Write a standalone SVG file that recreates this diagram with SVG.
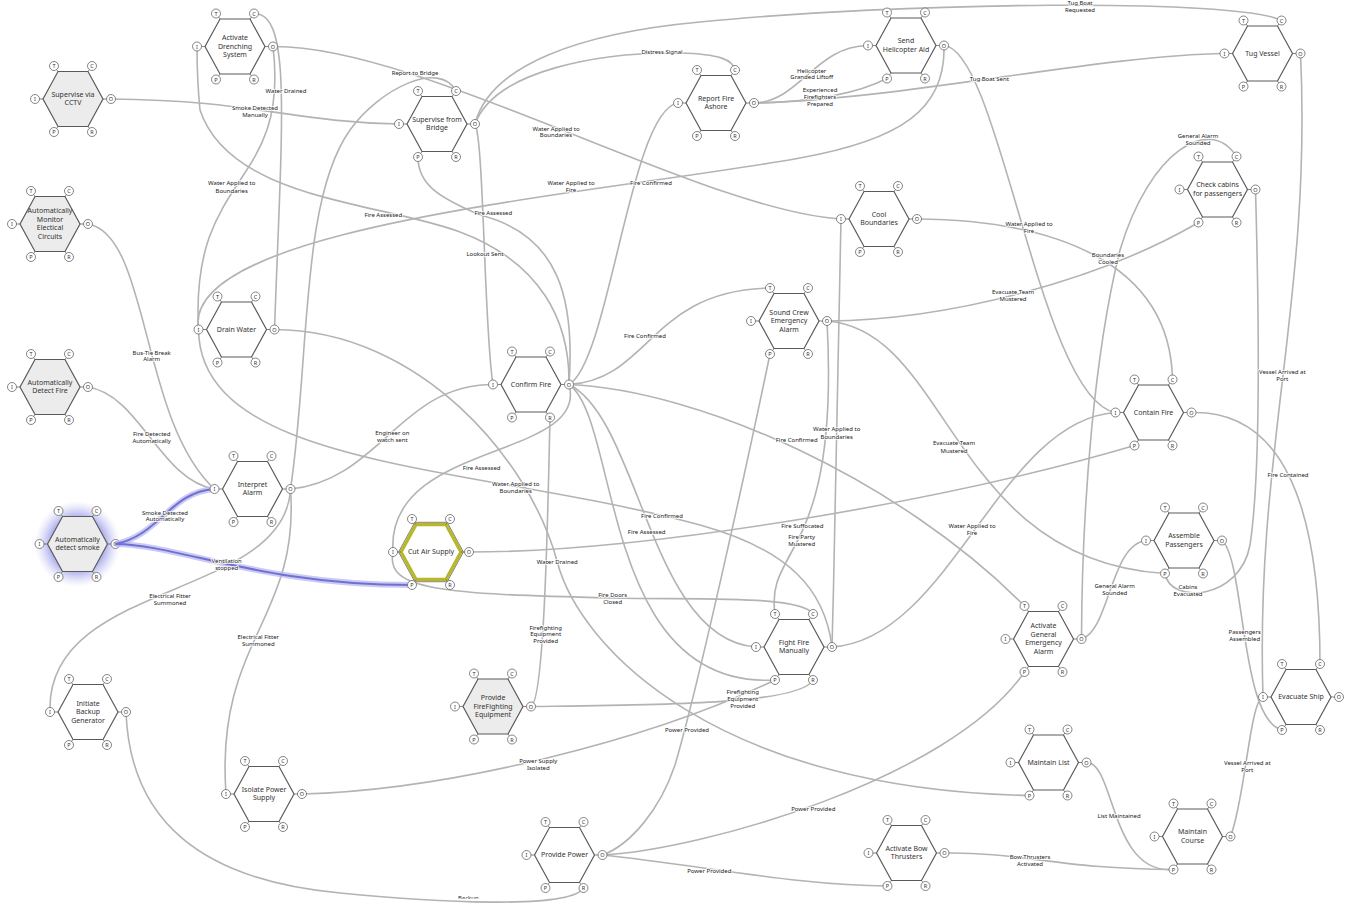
<svg xmlns="http://www.w3.org/2000/svg" width="1353" height="910" viewBox="0 0 1353 910">
<defs>
<style>
.c{fill:none;stroke:#b3b3b3;stroke-width:1.6}
.hl{fill:none;stroke:#7070d2;stroke-width:2}
.hlg{fill:none;stroke:#b8b8f0;stroke-width:6;stroke-opacity:0.75}
.lb{font-family:"Noto Sans","Liberation Sans",sans-serif;font-size:6px;fill:#1a1a1a;text-anchor:middle;stroke:#fff;stroke-width:1.6;paint-order:stroke;stroke-linejoin:round}
.hx{stroke:#5a5a5a;stroke-width:1.2}
.w{fill:#fff}
.g{fill:#ececec}
.ac{fill:#fff;stroke:#666;stroke-width:0.8}
.al{font-family:"Noto Sans","Liberation Sans",sans-serif;font-size:5.5px;fill:#333;text-anchor:middle}
.nt{font-family:"Noto Sans","Liberation Sans",sans-serif;font-size:7px;fill:#333;text-anchor:middle}
</style>
<polygon id="hex" points="-30,0 -15,-27.5 15,-27.5 30,0 15,27.5 -15,27.5"/>
<g id="asp">
<path d="M-34,0H-30M30,0H34M-19,-33L-15,-27.5M19,-33L15,-27.5M-19,33L-15,27.5M19,33L15,27.5" stroke="#666" stroke-width="0.8" fill="none"/>
<circle cx="-19" cy="-33" r="4.5" class="ac"/><circle cx="19" cy="-33" r="4.5" class="ac"/>
<circle cx="-38" cy="0" r="4.5" class="ac"/><circle cx="38" cy="0" r="4.5" class="ac"/>
<circle cx="-19" cy="33" r="4.5" class="ac"/><circle cx="19" cy="33" r="4.5" class="ac"/>
</g>
<radialGradient id="glow" cx="0.5" cy="0.5" r="0.5">
<stop offset="0" stop-color="#8c8ce6" stop-opacity="0.9"/>
<stop offset="0.65" stop-color="#9c9cea" stop-opacity="0.75"/>
<stop offset="1" stop-color="#c8c8f4" stop-opacity="0"/>
</radialGradient>
<clipPath id="clipb"><rect x="0" y="0" width="1353" height="898.7"/></clipPath>
</defs>
<rect width="1353" height="910" fill="#fff"/>

<g id="n-auto-detect-smoke" transform="translate(77.5,544)">
<circle r="43" fill="url(#glow)"/>
<use href="#hex" class="hx g"/><use href="#asp"/>
<text class="al" x="-19" y="-31">T</text><text class="al" x="19" y="-31">C</text><text class="al" x="-38" y="2">I</text><text class="al" x="38" y="2">O</text><text class="al" x="-19" y="35">P</text><text class="al" x="19" y="35">R</text>
<text class="nt"><tspan x="0" y="-2.25">Automatically</tspan><tspan x="0" y="6.25">detect smoke</tspan></text>
</g>

<g id="connectors">
<path class="c" d="M111,99 C250,100 300,123 399,124"/>
<path class="c" d="M274.5,329.5 C282,120 292,13 254,13.5"/>
<path class="c" d="M273,46.5 C290,190 190,170 198.5,329.5"/>
<path class="c" d="M273,46.5 C420,45 700,210 841,219"/>
<path class="c" d="M944,45.5 C946,110 900,140 800,158 C600,194 180,225 198.5,329.5"/>
<path class="c" d="M569,384.5 C570,320 540,262 460,232 C380,202 230,200 200,110 C198,90 197,70 197,46.5"/>
<path class="c" d="M569,384.5 C575,300 560,235 480,215 C440,198 418,185 418,157"/>
<path class="c" d="M475,124 C484,140 484,330 493,384.5"/>
<path class="c" d="M475,124 C490,65 580,33 700,22 C900,2 1240,-2 1281.5,20.5"/>
<path class="c" d="M475,124 C495,70 600,52 680,53 C720,54 733,60 735,70"/>
<path class="c" d="M754,103 C800,102 815,46 868,45.5"/>
<path class="c" d="M754,103 C820,102 860,92 887,78.5"/>
<path class="c" d="M754,103 C900,100 1100,55 1224.5,53.5"/>
<path class="c" d="M944,45.5 C1000,50 1040,400 1115.5,412.5"/>
<path class="c" d="M917,219 C1050,220 1170,260 1172.5,379.5"/>
<path class="c" d="M569,384.5 C610,360 630,110 678,103"/>
<path class="c" d="M569,384.5 C650,380 650,290 770,288"/>
<path class="c" d="M569,384.5 C700,390 900,480 1024.5,606"/>
<path class="c" d="M569,384.5 C640,420 650,640 756,647"/>
<path class="c" d="M569,384.5 C620,420 600,690 775,680"/>
<path class="c" d="M569,384.5 C590,460 385,440 393,552"/>
<path class="c" d="M393,552 C385,590 440,594 612,598 C700,600 800,595 813,614"/>
<path class="c" d="M290.5,489 C380,480 400,384.5 493,384.5"/>
<path class="c" d="M290.5,489 C310,360 300,200 350,130 C380,88 440,60 456,91"/>
<path class="c" d="M290.5,489 C285,600 45,580 50,712"/>
<path class="c" d="M290.5,489 C300,620 215,640 226,794"/>
<path class="c" d="M88,224 C150,235 140,420 214.5,489"/>
<path class="c" d="M88,387 C140,395 160,480 214.5,489"/>
<path class="c" d="M832,647 C825,590 790,550 700,525 C480,465 200,470 198.5,329.5"/>
<path class="c" d="M832,647 C836,500 838,350 841,219"/>
<path class="c" d="M827,321 C840,560 765,545 775,614"/>
<path class="c" d="M827,321 C950,330 950,560 1165,573.5"/>
<path class="c" d="M827,321 C950,320 1100,280 1198.5,222.5"/>
<path class="c" d="M602.5,855 C630,845 660,810 675,765 C700,680 750,450 770,354"/>
<path class="c" d="M602.5,855 C700,850 950,780 1024.5,672"/>
<path class="c" d="M602.5,855 C700,865 800,886 887.5,886"/>
<path class="c" d="M126,712 C130,820 200,880 340,893 C430,902 570,910 583.5,888"/>
<path class="c" d="M302,794 C450,790 650,740 775,680"/>
<path class="c" d="M531,706.5 C650,705 800,705 813,680"/>
<path class="c" d="M531,706.5 C545,700 548,500 550,417.5"/>
<path class="c" d="M274.5,329.5 C420,330 530,460 557,561 C580,650 720,790 1029.5,795.5"/>
<path class="c" d="M832,647 C950,640 1000,420 1115.5,412.5"/>
<path class="c" d="M469,552 C650,552 950,500 1134.5,445.5"/>
<path class="c" d="M1255.5,189.5 C1260,350 1260,480 1250,545 C1240,600 1170,605 1165,573.5"/>
<path class="c" d="M1300.5,53.5 C1312,300 1255,450 1263,697"/>
<path class="c" d="M1081.5,639 C1082,500 1095,350 1120,250 C1150,150 1210,115 1236.5,156.5"/>
<path class="c" d="M1081.5,639 C1110,630 1110,545 1146,540.5"/>
<path class="c" d="M1222,540.5 C1245,560 1240,720 1282,730"/>
<path class="c" d="M1230.5,836.5 C1245,800 1250,700 1263,697"/>
<path class="c" d="M1191.5,412.5 C1280,410 1320,500 1320,664"/>
<path class="c" d="M1086.5,762.5 C1115,762 1110,875 1173.5,869.5"/>
<path class="c" d="M944.5,853 C1020,852 1060,869 1173.5,869.5"/>
<path class="hlg" d="M115.5,544 C160,535 170,492 214.5,489"/>
<path class="hlg" d="M115.5,544 C180,545 260,585 412,585"/>
<path class="hl" d="M115.5,544 C160,535 170,492 214.5,489"/>
<path class="hl" d="M115.5,544 C180,545 260,585 412,585"/>

<text class="lb"><tspan x="1080" y="5">Tug Boat</tspan><tspan x="1080" y="11.5">Requested</tspan></text>
<text class="lb" x="662" y="54">Distress Signal</text>
<text class="lb"><tspan x="811.7" y="72.7">Helicopter</tspan><tspan x="811.7" y="79.3">Granded Liftoff</tspan></text>
<text class="lb"><tspan x="820" y="92">Experienced</tspan><tspan x="820" y="98.7">Firefighters</tspan><tspan x="820" y="105.7">Prepared</tspan></text>
<text class="lb" x="989.3" y="80.7">Tug Boat Sent</text>
<text class="lb"><tspan x="255" y="109.7">Smoke Detected</tspan><tspan x="255" y="117">Manually</tspan></text>
<text class="lb" x="286" y="92.7">Water Drained</text>
<text class="lb" x="415" y="75.3">Report to Bridge</text>
<text class="lb"><tspan x="556" y="130.7">Water Applied to</tspan><tspan x="556" y="137.3">Boundaries</tspan></text>
<text class="lb"><tspan x="231.7" y="185.3">Water Applied to</tspan><tspan x="231.7" y="193">Boundaries</tspan></text>
<text class="lb"><tspan x="571" y="185.3">Water Applied to</tspan><tspan x="571" y="192">Fire</tspan></text>
<text class="lb" x="651" y="185.3">Fire Confirmed</text>
<text class="lb" x="383.3" y="217">Fire Assessed</text>
<text class="lb" x="493.3" y="215.3">Fire Assessed</text>
<text class="lb" x="485" y="256">Lookout Sent</text>
<text class="lb"><tspan x="1029" y="226.3">Water Applied to</tspan><tspan x="1029" y="233">Fire</tspan></text>
<text class="lb"><tspan x="1108" y="257">Boundaries</tspan><tspan x="1108" y="263.7">Cooled</tspan></text>
<text class="lb"><tspan x="1198" y="137.7">General Alarm</tspan><tspan x="1198" y="144.7">Sounded</tspan></text>
<text class="lb"><tspan x="1013" y="294">Evacuate Team</tspan><tspan x="1013" y="301">Mustered</tspan></text>
<text class="lb" x="645" y="338">Fire Confirmed</text>
<text class="lb"><tspan x="392.3" y="435.3">Engineer on</tspan><tspan x="392.3" y="442">watch sent</tspan></text>
<text class="lb"><tspan x="151.7" y="354.7">Bus-Tie Break</tspan><tspan x="151.7" y="361.3">Alarm</tspan></text>
<text class="lb"><tspan x="151.7" y="436">Fire Detected</tspan><tspan x="151.7" y="442.7">Automatically</tspan></text>
<text class="lb"><tspan x="165" y="514.7">Smoke Detected</tspan><tspan x="165" y="521.3">Automatically</tspan></text>
<text class="lb"><tspan x="226.7" y="563">Ventilation</tspan><tspan x="226.7" y="569.7">stopped</tspan></text>
<text class="lb"><tspan x="170" y="598">Electrical Fitter</tspan><tspan x="170" y="604.7">Summoned</tspan></text>
<text class="lb"><tspan x="258.3" y="639">Electrical Fitter</tspan><tspan x="258.3" y="646">Summoned</tspan></text>
<text class="lb" x="481.7" y="470.3">Fire Assessed</text>
<text class="lb"><tspan x="515.7" y="486">Water Applied to</tspan><tspan x="515.7" y="493">Boundaries</tspan></text>
<text class="lb" x="662" y="518">Fire Confirmed</text>
<text class="lb" x="646.7" y="534.3">Fire Assessed</text>
<text class="lb" x="557.3" y="563.7">Water Drained</text>
<text class="lb"><tspan x="612.7" y="597.3">Fire Doors</tspan><tspan x="612.7" y="604.3">Closed</tspan></text>
<text class="lb"><tspan x="836.7" y="431.3">Water Applied to</tspan><tspan x="836.7" y="438.7">Boundaries</tspan></text>
<text class="lb" x="796.7" y="442">Fire Confirmed</text>
<text class="lb"><tspan x="954" y="445.3">Evacuate Team</tspan><tspan x="954" y="452.7">Mustered</tspan></text>
<text class="lb" x="802.3" y="527.7">Fire Suffocated</text>
<text class="lb"><tspan x="801.7" y="538.7">Fire Party</tspan><tspan x="801.7" y="545.7">Mustered</tspan></text>
<text class="lb"><tspan x="972" y="527.7">Water Applied to</tspan><tspan x="972" y="534.7">Fire</tspan></text>
<text class="lb"><tspan x="1282.3" y="373.7">Vessel Arrived at</tspan><tspan x="1282.3" y="380.7">Port</tspan></text>
<text class="lb" x="1288" y="477.3">Fire Contained</text>
<text class="lb"><tspan x="1114.7" y="588">General Alarm</tspan><tspan x="1114.7" y="595">Sounded</tspan></text>
<text class="lb"><tspan x="1188" y="589">Cabins</tspan><tspan x="1188" y="596">Evacuated</tspan></text>
<text class="lb"><tspan x="1244.7" y="633.7">Passengers</tspan><tspan x="1244.7" y="640.7">Assembled</tspan></text>
<text class="lb"><tspan x="1247.3" y="765.3">Vessel Arrived at</tspan><tspan x="1247.3" y="772.3">Port</tspan></text>
<text class="lb" x="1119" y="818">List Maintained</text>
<text class="lb"><tspan x="1030" y="859.3">Bow Thrusters</tspan><tspan x="1030" y="866.3">Activated</tspan></text>
<text class="lb"><tspan x="545.7" y="629.7">Firefighting</tspan><tspan x="545.7" y="636.3">Equipment</tspan><tspan x="545.7" y="643.3">Provided</tspan></text>
<text class="lb"><tspan x="538.3" y="763">Power Supply</tspan><tspan x="538.3" y="770.3">Isolated</tspan></text>
<text class="lb"><tspan x="742.7" y="694.3">Firefighting</tspan><tspan x="742.7" y="701.3">Equipment</tspan><tspan x="742.7" y="708.3">Provided</tspan></text>
<text class="lb" x="687" y="731.7">Power Provided</text>
<text class="lb" x="813.3" y="811">Power Provided</text>
<text class="lb" x="709.3" y="872.7">Power Provided</text>
<text class="lb" x="468.3" y="899.8" clip-path="url(#clipb)">Backup</text>
</g>

<g id="n-supervise-cctv" transform="translate(73,99)"><use href="#hex" class="hx g"/><use href="#asp"/><text class="al" x="-19" y="-31">T</text><text class="al" x="19" y="-31">C</text><text class="al" x="-38" y="2">I</text><text class="al" x="38" y="2">O</text><text class="al" x="-19" y="35">P</text><text class="al" x="19" y="35">R</text><text class="nt"><tspan x="0" y="-2.25">Supervise via</tspan><tspan x="0" y="6.25">CCTV</tspan></text></g>

<g id="n-activate-drenching" transform="translate(235,46.5)"><use href="#hex" class="hx w"/><use href="#asp"/><text class="al" x="-19" y="-31">T</text><text class="al" x="19" y="-31">C</text><text class="al" x="-38" y="2">I</text><text class="al" x="38" y="2">O</text><text class="al" x="-19" y="35">P</text><text class="al" x="19" y="35">R</text><text class="nt"><tspan x="0" y="-6.5">Activate</tspan><tspan x="0" y="2">Drenching</tspan><tspan x="0" y="10.5">System</tspan></text></g>

<g id="n-supervise-bridge" transform="translate(437,124)"><use href="#hex" class="hx w"/><use href="#asp"/><text class="al" x="-19" y="-31">T</text><text class="al" x="19" y="-31">C</text><text class="al" x="-38" y="2">I</text><text class="al" x="38" y="2">O</text><text class="al" x="-19" y="35">P</text><text class="al" x="19" y="35">R</text><text class="nt"><tspan x="0" y="-2.25">Supervise from</tspan><tspan x="0" y="6.25">Bridge</tspan></text></g>

<g id="n-monitor-circuits" transform="translate(50,224)"><use href="#hex" class="hx g"/><use href="#asp"/><text class="al" x="-19" y="-31">T</text><text class="al" x="19" y="-31">C</text><text class="al" x="-38" y="2">I</text><text class="al" x="38" y="2">O</text><text class="al" x="-19" y="35">P</text><text class="al" x="19" y="35">R</text><text class="nt"><tspan x="0" y="-10.75">Automatically</tspan><tspan x="0" y="-2.25">Monitor</tspan><tspan x="0" y="6.25">Electical</tspan><tspan x="0" y="14.75">Circuits</tspan></text></g>

<g id="n-auto-detect-fire" transform="translate(50,387)"><use href="#hex" class="hx g"/><use href="#asp"/><text class="al" x="-19" y="-31">T</text><text class="al" x="19" y="-31">C</text><text class="al" x="-38" y="2">I</text><text class="al" x="38" y="2">O</text><text class="al" x="-19" y="35">P</text><text class="al" x="19" y="35">R</text><text class="nt"><tspan x="0" y="-2.25">Automatically</tspan><tspan x="0" y="6.25">Detect Fire</tspan></text></g>

<g id="n-drain-water" transform="translate(236.5,329.5)"><use href="#hex" class="hx w"/><use href="#asp"/><text class="al" x="-19" y="-31">T</text><text class="al" x="19" y="-31">C</text><text class="al" x="-38" y="2">I</text><text class="al" x="38" y="2">O</text><text class="al" x="-19" y="35">P</text><text class="al" x="19" y="35">R</text><text class="nt" x="0" y="2">Drain Water</text></g>

<g id="n-interpret-alarm" transform="translate(252.5,489)"><use href="#hex" class="hx w"/><use href="#asp"/><text class="al" x="-19" y="-31">T</text><text class="al" x="19" y="-31">C</text><text class="al" x="-38" y="2">I</text><text class="al" x="38" y="2">O</text><text class="al" x="-19" y="35">P</text><text class="al" x="19" y="35">R</text><text class="nt"><tspan x="0" y="-2.25">Interpret</tspan><tspan x="0" y="6.25">Alarm</tspan></text></g>

<g id="n-confirm-fire" transform="translate(531,384.5)"><use href="#hex" class="hx w"/><use href="#asp"/><text class="al" x="-19" y="-31">T</text><text class="al" x="19" y="-31">C</text><text class="al" x="-38" y="2">I</text><text class="al" x="38" y="2">O</text><text class="al" x="-19" y="35">P</text><text class="al" x="19" y="35">R</text><text class="nt" x="0" y="2">Confirm Fire</text></g>

<g id="n-cut-air-supply" transform="translate(431,552)"><use href="#hex" transform="scale(1.08)" fill="none" stroke="#666" stroke-width="0.8"/><use href="#hex" fill="#fff" stroke="#b8b82c" stroke-width="3.5"/><use href="#asp"/><text class="al" x="-19" y="-31">T</text><text class="al" x="19" y="-31">C</text><text class="al" x="-38" y="2">I</text><text class="al" x="38" y="2">O</text><text class="al" x="-19" y="35">P</text><text class="al" x="19" y="35">R</text><text class="nt" x="0" y="2">Cut Air Supply</text></g>

<g id="n-report-fire-ashore" transform="translate(716,103)"><use href="#hex" class="hx w"/><use href="#asp"/><text class="al" x="-19" y="-31">T</text><text class="al" x="19" y="-31">C</text><text class="al" x="-38" y="2">I</text><text class="al" x="38" y="2">O</text><text class="al" x="-19" y="35">P</text><text class="al" x="19" y="35">R</text><text class="nt"><tspan x="0" y="-2.25">Report Fire</tspan><tspan x="0" y="6.25">Ashore</tspan></text></g>

<g id="n-send-helicopter" transform="translate(906,45.5)"><use href="#hex" class="hx w"/><use href="#asp"/><text class="al" x="-19" y="-31">T</text><text class="al" x="19" y="-31">C</text><text class="al" x="-38" y="2">I</text><text class="al" x="38" y="2">O</text><text class="al" x="-19" y="35">P</text><text class="al" x="19" y="35">R</text><text class="nt"><tspan x="0" y="-2.25">Send</tspan><tspan x="0" y="6.25">Helicopter Aid</tspan></text></g>

<g id="n-cool-boundaries" transform="translate(879,219)"><use href="#hex" class="hx w"/><use href="#asp"/><text class="al" x="-19" y="-31">T</text><text class="al" x="19" y="-31">C</text><text class="al" x="-38" y="2">I</text><text class="al" x="38" y="2">O</text><text class="al" x="-19" y="35">P</text><text class="al" x="19" y="35">R</text><text class="nt"><tspan x="0" y="-2.25">Cool</tspan><tspan x="0" y="6.25">Boundaries</tspan></text></g>

<g id="n-sound-crew-alarm" transform="translate(789,321)"><use href="#hex" class="hx w"/><use href="#asp"/><text class="al" x="-19" y="-31">T</text><text class="al" x="19" y="-31">C</text><text class="al" x="-38" y="2">I</text><text class="al" x="38" y="2">O</text><text class="al" x="-19" y="35">P</text><text class="al" x="19" y="35">R</text><text class="nt"><tspan x="0" y="-6.5">Sound Crew</tspan><tspan x="0" y="2">Emergency</tspan><tspan x="0" y="10.5">Alarm</tspan></text></g>

<g id="n-tug-vessel" transform="translate(1262.5,53.5)"><use href="#hex" class="hx w"/><use href="#asp"/><text class="al" x="-19" y="-31">T</text><text class="al" x="19" y="-31">C</text><text class="al" x="-38" y="2">I</text><text class="al" x="38" y="2">O</text><text class="al" x="-19" y="35">P</text><text class="al" x="19" y="35">R</text><text class="nt" x="0" y="2">Tug Vessel</text></g>

<g id="n-check-cabins" transform="translate(1217.5,189.5)"><use href="#hex" class="hx w"/><use href="#asp"/><text class="al" x="-19" y="-31">T</text><text class="al" x="19" y="-31">C</text><text class="al" x="-38" y="2">I</text><text class="al" x="38" y="2">O</text><text class="al" x="-19" y="35">P</text><text class="al" x="19" y="35">R</text><text class="nt"><tspan x="0" y="-2.25">Check cabins</tspan><tspan x="0" y="6.25">for passengers</tspan></text></g>

<g id="n-contain-fire" transform="translate(1153.5,412.5)"><use href="#hex" class="hx w"/><use href="#asp"/><text class="al" x="-19" y="-31">T</text><text class="al" x="19" y="-31">C</text><text class="al" x="-38" y="2">I</text><text class="al" x="38" y="2">O</text><text class="al" x="-19" y="35">P</text><text class="al" x="19" y="35">R</text><text class="nt" x="0" y="2">Contain Fire</text></g>

<g id="n-assemble-passengers" transform="translate(1184,540.5)"><use href="#hex" class="hx w"/><use href="#asp"/><text class="al" x="-19" y="-31">T</text><text class="al" x="19" y="-31">C</text><text class="al" x="-38" y="2">I</text><text class="al" x="38" y="2">O</text><text class="al" x="-19" y="35">P</text><text class="al" x="19" y="35">R</text><text class="nt"><tspan x="0" y="-2.25">Assemble</tspan><tspan x="0" y="6.25">Passengers</tspan></text></g>

<g id="n-general-alarm" transform="translate(1043.5,639)"><use href="#hex" class="hx w"/><use href="#asp"/><text class="al" x="-19" y="-31">T</text><text class="al" x="19" y="-31">C</text><text class="al" x="-38" y="2">I</text><text class="al" x="38" y="2">O</text><text class="al" x="-19" y="35">P</text><text class="al" x="19" y="35">R</text><text class="nt"><tspan x="0" y="-10.75">Activate</tspan><tspan x="0" y="-2.25">General</tspan><tspan x="0" y="6.25">Emergency</tspan><tspan x="0" y="14.75">Alarm</tspan></text></g>

<g id="n-fight-fire" transform="translate(794,647)"><use href="#hex" class="hx w"/><use href="#asp"/><text class="al" x="-19" y="-31">T</text><text class="al" x="19" y="-31">C</text><text class="al" x="-38" y="2">I</text><text class="al" x="38" y="2">O</text><text class="al" x="-19" y="35">P</text><text class="al" x="19" y="35">R</text><text class="nt"><tspan x="0" y="-2.25">Fight Fire</tspan><tspan x="0" y="6.25">Manually</tspan></text></g>

<g id="n-evacuate-ship" transform="translate(1301,697)"><use href="#hex" class="hx w"/><use href="#asp"/><text class="al" x="-19" y="-31">T</text><text class="al" x="19" y="-31">C</text><text class="al" x="-38" y="2">I</text><text class="al" x="38" y="2">O</text><text class="al" x="-19" y="35">P</text><text class="al" x="19" y="35">R</text><text class="nt" x="0" y="2">Evacuate Ship</text></g>

<g id="n-backup-generator" transform="translate(88,712)"><use href="#hex" class="hx w"/><use href="#asp"/><text class="al" x="-19" y="-31">T</text><text class="al" x="19" y="-31">C</text><text class="al" x="-38" y="2">I</text><text class="al" x="38" y="2">O</text><text class="al" x="-19" y="35">P</text><text class="al" x="19" y="35">R</text><text class="nt"><tspan x="0" y="-6.5">Initiate</tspan><tspan x="0" y="2">Backup</tspan><tspan x="0" y="10.5">Generator</tspan></text></g>

<g id="n-isolate-power" transform="translate(264,794)"><use href="#hex" class="hx w"/><use href="#asp"/><text class="al" x="-19" y="-31">T</text><text class="al" x="19" y="-31">C</text><text class="al" x="-38" y="2">I</text><text class="al" x="38" y="2">O</text><text class="al" x="-19" y="35">P</text><text class="al" x="19" y="35">R</text><text class="nt"><tspan x="0" y="-2.25">Isolate Power</tspan><tspan x="0" y="6.25">Supply</tspan></text></g>

<g id="n-provide-equipment" transform="translate(493,706.5)"><use href="#hex" class="hx g"/><use href="#asp"/><text class="al" x="-19" y="-31">T</text><text class="al" x="19" y="-31">C</text><text class="al" x="-38" y="2">I</text><text class="al" x="38" y="2">O</text><text class="al" x="-19" y="35">P</text><text class="al" x="19" y="35">R</text><text class="nt"><tspan x="0" y="-6.5">Provide</tspan><tspan x="0" y="2">FireFighting</tspan><tspan x="0" y="10.5">Equipment</tspan></text></g>

<g id="n-provide-power" transform="translate(564.5,855)"><use href="#hex" class="hx w"/><use href="#asp"/><text class="al" x="-19" y="-31">T</text><text class="al" x="19" y="-31">C</text><text class="al" x="-38" y="2">I</text><text class="al" x="38" y="2">O</text><text class="al" x="-19" y="35">P</text><text class="al" x="19" y="35">R</text><text class="nt" x="0" y="2">Provide Power</text></g>

<g id="n-bow-thrusters" transform="translate(906.5,853)"><use href="#hex" class="hx w"/><use href="#asp"/><text class="al" x="-19" y="-31">T</text><text class="al" x="19" y="-31">C</text><text class="al" x="-38" y="2">I</text><text class="al" x="38" y="2">O</text><text class="al" x="-19" y="35">P</text><text class="al" x="19" y="35">R</text><text class="nt"><tspan x="0" y="-2.25">Activate Bow</tspan><tspan x="0" y="6.25">Thrusters</tspan></text></g>

<g id="n-maintain-list" transform="translate(1048.5,762.5)"><use href="#hex" class="hx w"/><use href="#asp"/><text class="al" x="-19" y="-31">T</text><text class="al" x="19" y="-31">C</text><text class="al" x="-38" y="2">I</text><text class="al" x="38" y="2">O</text><text class="al" x="-19" y="35">P</text><text class="al" x="19" y="35">R</text><text class="nt" x="0" y="2">Maintain List</text></g>

<g id="n-maintain-course" transform="translate(1192.5,836.5)"><use href="#hex" class="hx w"/><use href="#asp"/><text class="al" x="-19" y="-31">T</text><text class="al" x="19" y="-31">C</text><text class="al" x="-38" y="2">I</text><text class="al" x="38" y="2">O</text><text class="al" x="-19" y="35">P</text><text class="al" x="19" y="35">R</text><text class="nt"><tspan x="0" y="-2.25">Maintain</tspan><tspan x="0" y="6.25">Course</tspan></text></g>
</svg>
